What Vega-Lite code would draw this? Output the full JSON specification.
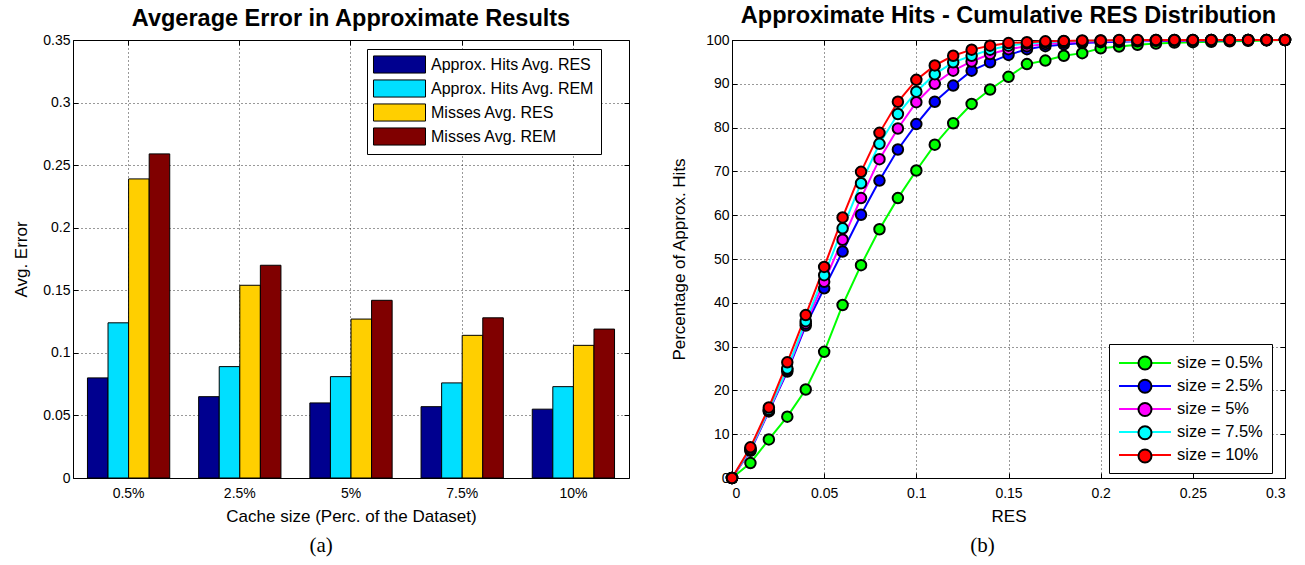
{
  "$schema": "https://vega.github.io/schema/vega-lite/v6.json",
  "background": "white",
  "padding": {"left": 12, "top": 3, "right": 5, "bottom": 5},
  "spacing": 40,
  "resolve": {"scale": {"color": "independent", "fill": "independent"}, "legend": {"color": "independent", "fill": "independent"}},
  "config": {
    "font": "Liberation Sans",
    "view": {"stroke": "black", "strokeWidth": 1},
    "axis": {
      "domain": false, "grid": true, "gridColor": "black", "gridDash": [1, 3], "gridOpacity": 0.8,
      "tickColor": "black", "tickSize": -5, "labelFont": "Liberation Sans", "labelFontSize": 14,
      "labelColor": "black", "labelPadding": 8, "titleFont": "Liberation Sans", "titleFontSize": 17,
      "titleFontWeight": "normal", "titleColor": "black"
    },
    "axisX": {"labelPadding": 13},
    "title": {"font": "Liberation Sans", "fontSize": 23.5, "fontWeight": "bold", "color": "black", "offset": 3}
  },
  "datasets": {
    "bars": [
      {"cache": "0.5%", "series": "Approx. Hits Avg. RES", "value": 0.080},
      {"cache": "0.5%", "series": "Approx. Hits Avg. REM", "value": 0.124},
      {"cache": "0.5%", "series": "Misses Avg. RES", "value": 0.239},
      {"cache": "0.5%", "series": "Misses Avg. REM", "value": 0.259},
      {"cache": "2.5%", "series": "Approx. Hits Avg. RES", "value": 0.065},
      {"cache": "2.5%", "series": "Approx. Hits Avg. REM", "value": 0.089},
      {"cache": "2.5%", "series": "Misses Avg. RES", "value": 0.154},
      {"cache": "2.5%", "series": "Misses Avg. REM", "value": 0.170},
      {"cache": "5%", "series": "Approx. Hits Avg. RES", "value": 0.060},
      {"cache": "5%", "series": "Approx. Hits Avg. REM", "value": 0.081},
      {"cache": "5%", "series": "Misses Avg. RES", "value": 0.127},
      {"cache": "5%", "series": "Misses Avg. REM", "value": 0.142},
      {"cache": "7.5%", "series": "Approx. Hits Avg. RES", "value": 0.057},
      {"cache": "7.5%", "series": "Approx. Hits Avg. REM", "value": 0.076},
      {"cache": "7.5%", "series": "Misses Avg. RES", "value": 0.114},
      {"cache": "7.5%", "series": "Misses Avg. REM", "value": 0.128},
      {"cache": "10%", "series": "Approx. Hits Avg. RES", "value": 0.055},
      {"cache": "10%", "series": "Approx. Hits Avg. REM", "value": 0.073},
      {"cache": "10%", "series": "Misses Avg. RES", "value": 0.106},
      {"cache": "10%", "series": "Misses Avg. REM", "value": 0.119}
    ],
    "cdf": [
      {"size": "size = 0.5%", "res": 0, "pct": 0}, {"size": "size = 0.5%", "res": 0.01, "pct": 3.4}, {"size": "size = 0.5%", "res": 0.02, "pct": 8.8}, {"size": "size = 0.5%", "res": 0.03, "pct": 14.0}, {"size": "size = 0.5%", "res": 0.04, "pct": 20.2}, {"size": "size = 0.5%", "res": 0.05, "pct": 28.8}, {"size": "size = 0.5%", "res": 0.06, "pct": 39.5}, {"size": "size = 0.5%", "res": 0.07, "pct": 48.6}, {"size": "size = 0.5%", "res": 0.08, "pct": 56.8}, {"size": "size = 0.5%", "res": 0.09, "pct": 63.9}, {"size": "size = 0.5%", "res": 0.10, "pct": 70.2}, {"size": "size = 0.5%", "res": 0.11, "pct": 76.1}, {"size": "size = 0.5%", "res": 0.12, "pct": 81.0}, {"size": "size = 0.5%", "res": 0.13, "pct": 85.4}, {"size": "size = 0.5%", "res": 0.14, "pct": 88.7}, {"size": "size = 0.5%", "res": 0.15, "pct": 91.6}, {"size": "size = 0.5%", "res": 0.16, "pct": 94.5}, {"size": "size = 0.5%", "res": 0.17, "pct": 95.3}, {"size": "size = 0.5%", "res": 0.18, "pct": 96.4}, {"size": "size = 0.5%", "res": 0.19, "pct": 97.0}, {"size": "size = 0.5%", "res": 0.20, "pct": 98.1}, {"size": "size = 0.5%", "res": 0.21, "pct": 98.5}, {"size": "size = 0.5%", "res": 0.22, "pct": 98.9}, {"size": "size = 0.5%", "res": 0.23, "pct": 99.2}, {"size": "size = 0.5%", "res": 0.24, "pct": 99.4}, {"size": "size = 0.5%", "res": 0.25, "pct": 99.5}, {"size": "size = 0.5%", "res": 0.26, "pct": 99.6}, {"size": "size = 0.5%", "res": 0.27, "pct": 99.7}, {"size": "size = 0.5%", "res": 0.28, "pct": 99.8}, {"size": "size = 0.5%", "res": 0.29, "pct": 99.9}, {"size": "size = 0.5%", "res": 0.30, "pct": 100},
      {"size": "size = 2.5%", "res": 0, "pct": 0}, {"size": "size = 2.5%", "res": 0.01, "pct": 6.2}, {"size": "size = 2.5%", "res": 0.02, "pct": 15.2}, {"size": "size = 2.5%", "res": 0.03, "pct": 24.3}, {"size": "size = 2.5%", "res": 0.04, "pct": 34.8}, {"size": "size = 2.5%", "res": 0.05, "pct": 43.3}, {"size": "size = 2.5%", "res": 0.06, "pct": 51.7}, {"size": "size = 2.5%", "res": 0.07, "pct": 60.1}, {"size": "size = 2.5%", "res": 0.08, "pct": 67.9}, {"size": "size = 2.5%", "res": 0.09, "pct": 75.0}, {"size": "size = 2.5%", "res": 0.10, "pct": 80.8}, {"size": "size = 2.5%", "res": 0.11, "pct": 85.9}, {"size": "size = 2.5%", "res": 0.12, "pct": 89.6}, {"size": "size = 2.5%", "res": 0.13, "pct": 93.0}, {"size": "size = 2.5%", "res": 0.14, "pct": 94.9}, {"size": "size = 2.5%", "res": 0.15, "pct": 96.6}, {"size": "size = 2.5%", "res": 0.16, "pct": 97.9}, {"size": "size = 2.5%", "res": 0.17, "pct": 98.6}, {"size": "size = 2.5%", "res": 0.18, "pct": 99.0}, {"size": "size = 2.5%", "res": 0.19, "pct": 99.3}, {"size": "size = 2.5%", "res": 0.20, "pct": 99.5}, {"size": "size = 2.5%", "res": 0.21, "pct": 99.6}, {"size": "size = 2.5%", "res": 0.22, "pct": 99.7}, {"size": "size = 2.5%", "res": 0.23, "pct": 99.8}, {"size": "size = 2.5%", "res": 0.24, "pct": 99.8}, {"size": "size = 2.5%", "res": 0.25, "pct": 99.9}, {"size": "size = 2.5%", "res": 0.26, "pct": 99.9}, {"size": "size = 2.5%", "res": 0.27, "pct": 99.9}, {"size": "size = 2.5%", "res": 0.28, "pct": 100}, {"size": "size = 2.5%", "res": 0.29, "pct": 100}, {"size": "size = 2.5%", "res": 0.30, "pct": 100},
      {"size": "size = 5%", "res": 0, "pct": 0}, {"size": "size = 5%", "res": 0.01, "pct": 6.4}, {"size": "size = 5%", "res": 0.02, "pct": 15.4}, {"size": "size = 5%", "res": 0.03, "pct": 24.7}, {"size": "size = 5%", "res": 0.04, "pct": 35.3}, {"size": "size = 5%", "res": 0.05, "pct": 44.8}, {"size": "size = 5%", "res": 0.06, "pct": 54.4}, {"size": "size = 5%", "res": 0.07, "pct": 63.9}, {"size": "size = 5%", "res": 0.08, "pct": 72.8}, {"size": "size = 5%", "res": 0.09, "pct": 79.8}, {"size": "size = 5%", "res": 0.10, "pct": 85.8}, {"size": "size = 5%", "res": 0.11, "pct": 90.0}, {"size": "size = 5%", "res": 0.12, "pct": 93.0}, {"size": "size = 5%", "res": 0.13, "pct": 95.1}, {"size": "size = 5%", "res": 0.14, "pct": 96.8}, {"size": "size = 5%", "res": 0.15, "pct": 97.9}, {"size": "size = 5%", "res": 0.16, "pct": 98.6}, {"size": "size = 5%", "res": 0.17, "pct": 99.1}, {"size": "size = 5%", "res": 0.18, "pct": 99.4}, {"size": "size = 5%", "res": 0.19, "pct": 99.6}, {"size": "size = 5%", "res": 0.20, "pct": 99.7}, {"size": "size = 5%", "res": 0.21, "pct": 99.8}, {"size": "size = 5%", "res": 0.22, "pct": 99.8}, {"size": "size = 5%", "res": 0.23, "pct": 99.9}, {"size": "size = 5%", "res": 0.24, "pct": 99.9}, {"size": "size = 5%", "res": 0.25, "pct": 99.9}, {"size": "size = 5%", "res": 0.26, "pct": 100}, {"size": "size = 5%", "res": 0.27, "pct": 100}, {"size": "size = 5%", "res": 0.28, "pct": 100}, {"size": "size = 5%", "res": 0.29, "pct": 100}, {"size": "size = 5%", "res": 0.30, "pct": 100},
      {"size": "size = 7.5%", "res": 0, "pct": 0}, {"size": "size = 7.5%", "res": 0.01, "pct": 6.6}, {"size": "size = 7.5%", "res": 0.02, "pct": 15.6}, {"size": "size = 7.5%", "res": 0.03, "pct": 25.0}, {"size": "size = 7.5%", "res": 0.04, "pct": 35.8}, {"size": "size = 7.5%", "res": 0.05, "pct": 46.3}, {"size": "size = 7.5%", "res": 0.06, "pct": 57.0}, {"size": "size = 7.5%", "res": 0.07, "pct": 67.3}, {"size": "size = 7.5%", "res": 0.08, "pct": 76.3}, {"size": "size = 7.5%", "res": 0.09, "pct": 83.1}, {"size": "size = 7.5%", "res": 0.10, "pct": 88.2}, {"size": "size = 7.5%", "res": 0.11, "pct": 92.2}, {"size": "size = 7.5%", "res": 0.12, "pct": 94.9}, {"size": "size = 7.5%", "res": 0.13, "pct": 96.4}, {"size": "size = 7.5%", "res": 0.14, "pct": 97.8}, {"size": "size = 7.5%", "res": 0.15, "pct": 98.7}, {"size": "size = 7.5%", "res": 0.16, "pct": 99.2}, {"size": "size = 7.5%", "res": 0.17, "pct": 99.5}, {"size": "size = 7.5%", "res": 0.18, "pct": 99.7}, {"size": "size = 7.5%", "res": 0.19, "pct": 99.8}, {"size": "size = 7.5%", "res": 0.20, "pct": 99.9}, {"size": "size = 7.5%", "res": 0.21, "pct": 99.9}, {"size": "size = 7.5%", "res": 0.22, "pct": 99.9}, {"size": "size = 7.5%", "res": 0.23, "pct": 100}, {"size": "size = 7.5%", "res": 0.24, "pct": 100}, {"size": "size = 7.5%", "res": 0.25, "pct": 100}, {"size": "size = 7.5%", "res": 0.26, "pct": 100}, {"size": "size = 7.5%", "res": 0.27, "pct": 100}, {"size": "size = 7.5%", "res": 0.28, "pct": 100}, {"size": "size = 7.5%", "res": 0.29, "pct": 100}, {"size": "size = 7.5%", "res": 0.30, "pct": 100},
      {"size": "size = 10%", "res": 0, "pct": 0}, {"size": "size = 10%", "res": 0.01, "pct": 7.0}, {"size": "size = 10%", "res": 0.02, "pct": 16.1}, {"size": "size = 10%", "res": 0.03, "pct": 26.4}, {"size": "size = 10%", "res": 0.04, "pct": 37.2}, {"size": "size = 10%", "res": 0.05, "pct": 48.2}, {"size": "size = 10%", "res": 0.06, "pct": 59.5}, {"size": "size = 10%", "res": 0.07, "pct": 69.9}, {"size": "size = 10%", "res": 0.08, "pct": 78.8}, {"size": "size = 10%", "res": 0.09, "pct": 85.9}, {"size": "size = 10%", "res": 0.10, "pct": 90.9}, {"size": "size = 10%", "res": 0.11, "pct": 94.2}, {"size": "size = 10%", "res": 0.12, "pct": 96.4}, {"size": "size = 10%", "res": 0.13, "pct": 97.8}, {"size": "size = 10%", "res": 0.14, "pct": 98.7}, {"size": "size = 10%", "res": 0.15, "pct": 99.3}, {"size": "size = 10%", "res": 0.16, "pct": 99.5}, {"size": "size = 10%", "res": 0.17, "pct": 99.7}, {"size": "size = 10%", "res": 0.18, "pct": 99.8}, {"size": "size = 10%", "res": 0.19, "pct": 99.9}, {"size": "size = 10%", "res": 0.20, "pct": 99.9}, {"size": "size = 10%", "res": 0.21, "pct": 100}, {"size": "size = 10%", "res": 0.22, "pct": 100}, {"size": "size = 10%", "res": 0.23, "pct": 100}, {"size": "size = 10%", "res": 0.24, "pct": 100}, {"size": "size = 10%", "res": 0.25, "pct": 100}, {"size": "size = 10%", "res": 0.26, "pct": 100}, {"size": "size = 10%", "res": 0.27, "pct": 100}, {"size": "size = 10%", "res": 0.28, "pct": 100}, {"size": "size = 10%", "res": 0.29, "pct": 100}, {"size": "size = 10%", "res": 0.30, "pct": 100}
    ]
  },
  "hconcat": [
    {
      "title": {"text": "(a)", "orient": "bottom", "font": "Liberation Serif", "fontSize": 21, "fontWeight": "normal", "anchor": "middle", "frame": "bounds", "offset": 10},
      "vconcat": [
        {
          "title": {"text": "Avgerage Error in Approximate Results"},
          "width": 556,
          "height": 438,
          "data": {"name": "bars"},
          "layer": [
            {
              "mark": {"type": "bar", "stroke": "black", "strokeWidth": 1},
              "encoding": {
                "x": {
                  "field": "cache", "type": "nominal", "sort": ["0.5%", "2.5%", "5%", "7.5%", "10%"],
                  "scale": {"paddingInner": 0.26, "paddingOuter": 0.13},
                  "axis": {"title": "Cache size (Perc. of the Dataset)", "labelAngle": 0, "bandPosition": 0.5, "titlePadding": 8}
                },
                "xOffset": {
                  "field": "series", "type": "nominal",
                  "sort": ["Approx. Hits Avg. RES", "Approx. Hits Avg. REM", "Misses Avg. RES", "Misses Avg. REM"],
                  "scale": {"paddingInner": 0, "paddingOuter": 0}
                },
                "y": {
                  "field": "value", "type": "quantitative",
                  "scale": {"domain": [0, 0.35], "nice": false},
                  "axis": {"title": "Avg. Error", "values": [0, 0.05, 0.1, 0.15, 0.2, 0.25, 0.3, 0.35], "format": ".2~f", "titlePadding": 12}
                },
                "color": {
                  "field": "series", "type": "nominal",
                  "sort": ["Approx. Hits Avg. RES", "Approx. Hits Avg. REM", "Misses Avg. RES", "Misses Avg. REM"],
                  "scale": {
                    "domain": ["Approx. Hits Avg. RES", "Approx. Hits Avg. REM", "Misses Avg. RES", "Misses Avg. REM"],
                    "range": ["#00008F", "#00DFFF", "#FFCF00", "#800000"]
                  },
                  "legend": {
                    "title": null, "orient": "none", "legendX": 294, "legendY": 9,
                    "symbolType": "M-2.889,-0.95H2.889V0.95H-2.889Z", "symbolSize": 324, "symbolOffset": 17,
                    "symbolStrokeColor": "black", "symbolStrokeWidth": 1,
                    "labelFont": "Liberation Sans", "labelFontSize": 16, "labelColor": "black", "labelLimit": 300,
                    "labelOffset": 22, "rowPadding": 1, "padding": 6,
                    "strokeColor": "black", "fillColor": "white"
                  }
                }
              }
            },
            {
              "mark": {"type": "point", "opacity": 0},
              "encoding": {
                "x": {"field": "cache", "type": "nominal", "sort": ["0.5%", "2.5%", "5%", "7.5%", "10%"], "axis": {"orient": "top", "labels": false, "title": null, "grid": false, "bandPosition": 0.5}},
                "y": {"field": "value", "type": "quantitative", "axis": {"orient": "right", "labels": false, "title": null, "grid": false, "values": [0, 0.05, 0.1, 0.15, 0.2, 0.25, 0.3, 0.35]}}
              }
            }
          ],
          "resolve": {"axis": {"x": "independent", "y": "independent"}}
        }
      ]
    },
    {
      "title": {"text": "(b)", "orient": "bottom", "font": "Liberation Serif", "fontSize": 21, "fontWeight": "normal", "anchor": "middle", "frame": "bounds", "offset": 10},
      "vconcat": [
        {
          "title": {"text": "Approximate Hits - Cumulative RES Distribution"},
          "width": 553,
          "height": 438,
          "data": {"name": "cdf"},
          "layer": [
            {
              "mark": {"type": "line", "strokeWidth": 2},
              "encoding": {
                "x": {
                  "field": "res", "type": "quantitative", "scale": {"domain": [0, 0.3], "nice": false},
                  "axis": {"title": "RES", "values": [0, 0.05, 0.1, 0.15, 0.2, 0.25, 0.3], "format": ".2~f", "titlePadding": 8}
                },
                "y": {
                  "field": "pct", "type": "quantitative", "scale": {"domain": [0, 100], "nice": false},
                  "axis": {"title": "Percentage of Approx. Hits", "values": [0, 10, 20, 30, 40, 50, 60, 70, 80, 90, 100], "titlePadding": 17}
                },
                "color": {
                  "field": "size", "type": "nominal",
                  "sort": ["size = 0.5%", "size = 2.5%", "size = 5%", "size = 7.5%", "size = 10%"],
                  "scale": {
                    "domain": ["size = 0.5%", "size = 2.5%", "size = 5%", "size = 7.5%", "size = 10%"],
                    "range": ["#00FF00", "#0000FF", "#FF00FF", "#00FFFF", "#FF0000"]
                  },
                  "legend": {
                    "title": null, "orient": "none", "legendX": 377, "legendY": 304,
                    "symbolType": "M-2.889,0H2.889", "symbolSize": 324, "symbolOffset": 17, "symbolStrokeWidth": 2,
                    "labelFont": "Liberation Sans", "labelFontSize": 16.5, "labelColor": "black",
                    "labelOffset": 22, "rowPadding": 4, "padding": 9,
                    "strokeColor": "black", "fillColor": "white"
                  }
                }
              }
            },
            {
              "mark": {"type": "point", "filled": true, "shape": "circle", "size": 110, "stroke": "black", "strokeWidth": 2, "opacity": 1},
              "encoding": {
                "x": {"field": "res", "type": "quantitative", "axis": null},
                "y": {"field": "pct", "type": "quantitative", "axis": null},
                "fill": {
                  "field": "size", "type": "nominal",
                  "sort": ["size = 0.5%", "size = 2.5%", "size = 5%", "size = 7.5%", "size = 10%"],
                  "scale": {
                    "range": ["#00FF00", "#0000FF", "#FF00FF", "#00FFFF", "#FF0000"]
                  },
                  "legend": {
                    "title": null, "orient": "none", "legendX": 377, "legendY": 304,
                    "symbolType": "M-0.722,0A0.722,0.722 0 1,0 0.722,0A0.722,0.722 0 1,0 -0.722,0", "symbolSize": 324, "symbolOffset": 17,
                    "symbolStrokeColor": "black", "symbolStrokeWidth": 2,
                    "labelFont": "Liberation Sans", "labelFontSize": 16.5, "labelColor": "transparent",
                    "labelOffset": 22, "rowPadding": 1.25, "padding": 9
                  }
                }
              }
            },
            {
              "mark": {"type": "point", "opacity": 0},
              "encoding": {
                "x": {"field": "res", "type": "quantitative", "axis": {"orient": "top", "labels": false, "title": null, "grid": false, "values": [0, 0.05, 0.1, 0.15, 0.2, 0.25, 0.3]}},
                "y": {"field": "pct", "type": "quantitative", "axis": {"orient": "right", "labels": false, "title": null, "grid": false, "values": [0, 10, 20, 30, 40, 50, 60, 70, 80, 90, 100]}}
              }
            }
          ],
          "resolve": {"axis": {"x": "independent", "y": "independent"}}
        }
      ]
    }
  ]
}
